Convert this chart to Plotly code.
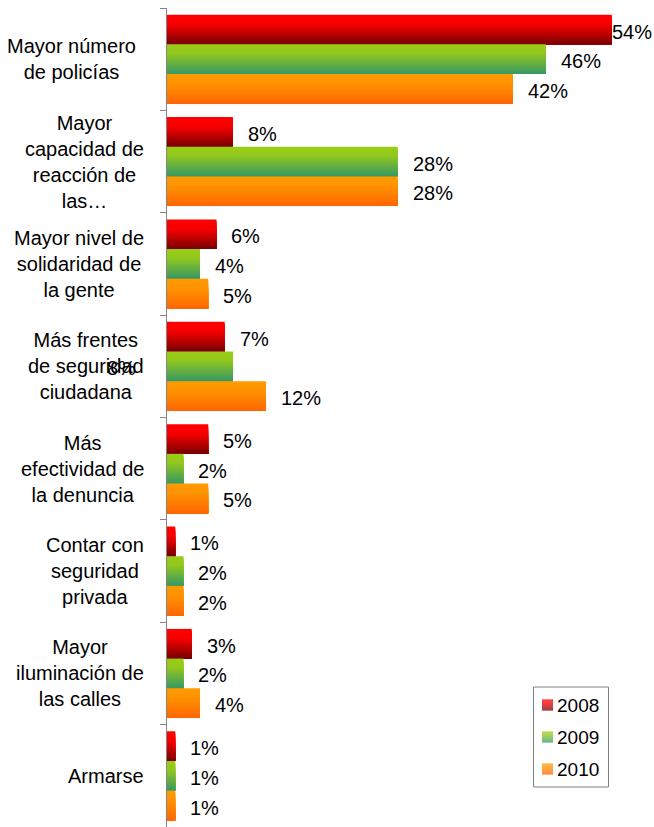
import plotly.graph_objects as go

# Survey answers: which measure would improve citizen security (% of respondents)
categories = [
    "Mayor número<br>de policías",
    "Mayor<br>capacidad de<br>reacción de<br>las…",
    "Mayor nivel de<br>solidaridad de<br>la gente",
    "Más frentes<br>de seguridad<br>ciudadana",
    "Más<br>efectividad de<br>la denuncia",
    "Contar con<br>seguridad<br>privada",
    "Mayor<br>iluminación de<br>las calles",
    "Armarse",
]
years = ["2008", "2009", "2010"]
v2008 = [54, 8, 6, 7, 5, 1, 3, 1]
v2009 = [46, 28, 4, 8, 2, 2, 2, 1]
v2010 = [42, 28, 5, 12, 5, 2, 4, 1]
series = [v2008, v2009, v2010]

# vertical gradient stops (top -> bottom) for each year's bars
gradients = [
    [(0.0, (255, 0, 0)), (0.33, (246, 0, 0)), (1.0, (120, 0, 0))],
    [(0.0, (154, 205, 20)), (0.30, (146, 200, 30)), (1.0, (54, 152, 100))],
    [(0.0, (255, 155, 0)), (0.35, (255, 145, 0)), (1.0, (255, 102, 0))],
]

FONT = "Liberation Sans, Arial, sans-serif"
W, H = 654, 827
ML, MR, MT, MB = 167, 34, 8, 0
PW, PH = W - ML - MR, H - MT - MB
XMAX = 55

N_STRIPS = 20
GROUP = 0.87
BAND = GROUP / len(years)


def lerp_color(stops, t):
    for (t0, c0), (t1, c1) in zip(stops, stops[1:]):
        if t <= t1:
            f = (t - t0) / (t1 - t0) if t1 > t0 else 0
            c = [round(a + (b - a) * f) for a, b in zip(c0, c1)]
            return "rgb({},{},{})".format(*c)
    return "rgb({},{},{})".format(*stops[-1][1])


def px_x(px):
    return (px - ML) / PW


def px_y(py):
    return 1 - (py - MT) / PH


pos = list(range(len(categories)))
fig = go.Figure()

# each bar is painted as stacked horizontal strips to get a top-to-bottom gradient
for s, vals in enumerate(series):
    start = -GROUP / 2 + s * BAND
    for k in range(N_STRIPS):
        t = (k + 0.5) / N_STRIPS
        fig.add_trace(go.Bar(
            orientation="h",
            x=vals,
            y=pos,
            base=0,
            offset=start + k * BAND / N_STRIPS,
            width=BAND * (N_STRIPS - k) / N_STRIPS,
            marker=dict(color=lerp_color(gradients[s], t), line=dict(width=0)),
            showlegend=False,
            hoverinfo="skip",
        ))

annotations = []

# value labels
label_shift = {(0, 0): -2, (3, 1): -128}
for s, vals in enumerate(series):
    for i, v in enumerate(vals):
        annotations.append(dict(
            x=v, y=i - GROUP / 2 + s * BAND + BAND / 2,
            xref="x", yref="y",
            text=f"{v}%",
            showarrow=False,
            xanchor="left", yanchor="middle",
            xshift=label_shift.get((i, s), 13), yshift=-2,
            font=dict(family=FONT, size=20, color="#000000"),
        ))

# category labels, centred lines, right-aligned block next to the axis
cat_shift = {0: -29}
for i, c in enumerate(categories):
    annotations.append(dict(
        x=0, y=i, xref="paper", yref="y",
        text=c, showarrow=False,
        xanchor="right", yanchor="middle", align="center",
        xshift=cat_shift.get(i, -21),
        font=dict(family=FONT, size=20, color="#000000"),
    ))

# legend box
shapes = [dict(
    type="rect", xref="paper", yref="paper",
    x0=px_x(533.5), x1=px_x(608.5), y0=px_y(787), y1=px_y(687),
    line=dict(color="#808080", width=1), fillcolor="white", layer="above",
)]
legend_rows = [705, 737, 769]
for s, yr in enumerate(years):
    cy = legend_rows[s]
    top = cy - 5.5
    steps = 11
    for k in range(steps):
        shapes.append(dict(
            type="rect", xref="paper", yref="paper",
            x0=px_x(542), x1=px_x(553),
            y0=px_y(top + k + 1), y1=px_y(top + k),
            line=dict(width=0),
            fillcolor=lerp_color(gradients[s], (k + 0.5) / steps),
            layer="above",
        ))
    annotations.append(dict(
        x=px_x(555), y=px_y(cy), xref="paper", yref="paper",
        text=yr, showarrow=False, xanchor="left", yanchor="middle",
        font=dict(family=FONT, size=19, color="#000000"),
    ))

fig.update_layout(
    width=W, height=H,
    margin=dict(l=ML, r=MR, t=MT, b=MB, pad=0),
    barmode="overlay",
    plot_bgcolor="white", paper_bgcolor="white",
    showlegend=False,
    xaxis=dict(range=[0, XMAX], visible=False, fixedrange=True),
    yaxis=dict(
        range=[len(categories) - 0.5, -0.5],
        tickmode="array",
        tickvals=[i - 0.5 for i in range(len(categories) + 1)],
        showticklabels=False,
        ticks="outside", ticklen=6, tickwidth=1.3, tickcolor="#868686",
        showline=True, linecolor="#868686", linewidth=1.3,
        showgrid=False, zeroline=False, fixedrange=True,
    ),
    annotations=annotations,
    shapes=shapes,
    font=dict(family=FONT),
)

fig.write_html("out.html")
